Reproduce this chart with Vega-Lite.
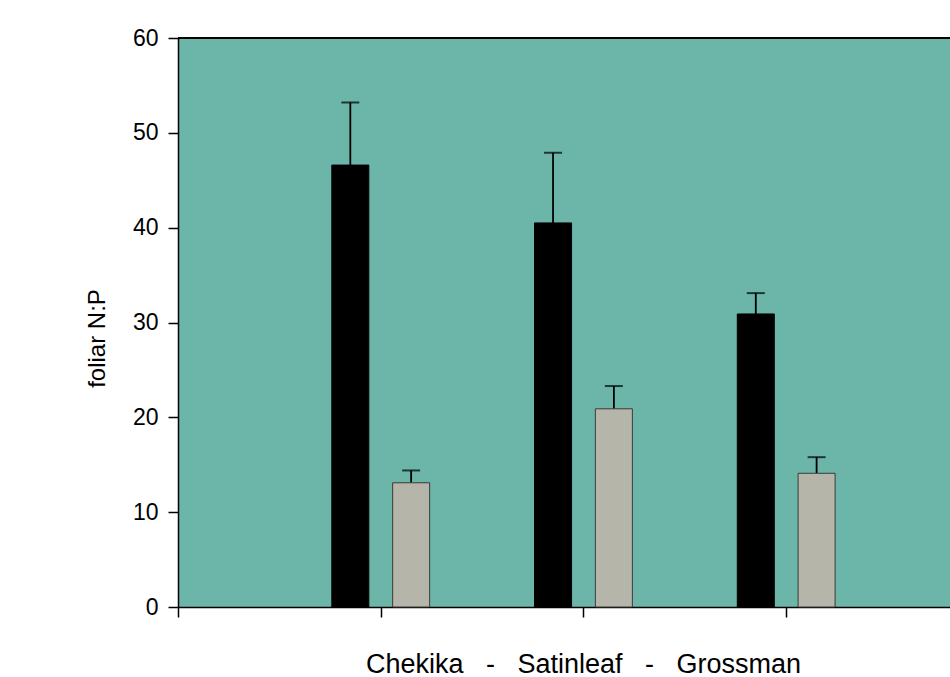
{
  "$schema": "https://vega.github.io/schema/vega-lite/v6.json",
  "autosize": "none",
  "width": 772,
  "height": 569,
  "padding": {"left": 178, "top": 38, "right": 0, "bottom": 70},
  "background": "#ffffff",
  "config": {
    "font": "Liberation Sans",
    "view": {"fill": "#6bb5a9", "stroke": null}
  },
  "data": {
    "values": [
      {"site": "Chekika", "group": 1, "series": "A", "value": 46.6, "upper": 53.2},
      {"site": "Chekika", "group": 1, "series": "B", "value": 13.1, "upper": 14.4},
      {"site": "Satinleaf", "group": 2, "series": "A", "value": 40.5, "upper": 47.9},
      {"site": "Satinleaf", "group": 2, "series": "B", "value": 20.9, "upper": 23.3},
      {"site": "Grossman", "group": 3, "series": "A", "value": 30.9, "upper": 33.1},
      {"site": "Grossman", "group": 3, "series": "B", "value": 14.1, "upper": 15.8}
    ]
  },
  "transform": [
    {"calculate": "datum.group + (datum.series === 'A' ? -0.15 : 0.15)", "as": "xpos"}
  ],
  "encoding": {
    "x": {
      "field": "xpos",
      "type": "quantitative",
      "scale": {"domain": [0, 3.808], "nice": false, "zero": false, "padding": 0},
      "axis": {
        "values": [0, 1, 2, 3],
        "labels": false,
        "grid": false,
        "domainColor": "#000000",
        "domainWidth": 1.5,
        "tickColor": "#000000",
        "tickWidth": 1.5,
        "tickSize": 10,
        "title": "Chekika\u00a0\u00a0\u00a0-\u00a0\u00a0\u00a0Satinleaf\u00a0\u00a0\u00a0-\u00a0\u00a0\u00a0Grossman",
        "titleFont": "Liberation Sans",
        "titleFontSize": 27,
        "titleFontWeight": "normal",
        "titleColor": "#000000",
        "titleX": 405,
        "titleY": 57,
        "titleAlign": "center",
        "titleBaseline": "middle"
      }
    }
  },
  "layer": [
    {
      "mark": {"type": "rule", "color": "#000000", "strokeWidth": 1.5},
      "encoding": {"y": {"datum": 60, "type": "quantitative"}, "x": null}
    },
    {
      "mark": {"type": "rule", "color": "#000000", "strokeWidth": 1.8},
      "encoding": {
        "y": {"field": "value", "type": "quantitative"},
        "y2": {"field": "upper"}
      }
    },
    {
      "mark": {"type": "tick", "orient": "horizontal", "color": "#000000", "size": 18, "thickness": 2},
      "encoding": {
        "y": {"field": "upper", "type": "quantitative"}
      }
    },
    {
      "mark": {"type": "bar", "width": 37, "strokeWidth": 1},
      "encoding": {
        "y": {
          "field": "value",
          "type": "quantitative",
          "scale": {"domain": [0, 60], "nice": false},
          "axis": {
            "values": [0, 10, 20, 30, 40, 50, 60],
            "grid": false,
            "domainColor": "#000000",
            "domainWidth": 1.5,
            "tickColor": "#000000",
            "tickWidth": 1.5,
            "tickSize": 10,
            "labelFont": "Liberation Sans",
            "labelFontSize": 23,
            "labelColor": "#000000",
            "labelPadding": 10,
            "title": "foliar N:P",
            "titleFont": "Liberation Sans",
            "titleFontSize": 24,
            "titleFontWeight": "normal",
            "titleColor": "#000000",
            "titleAngle": 270,
            "titleX": -81,
            "titleY": 300,
            "titleAlign": "center",
            "titleBaseline": "middle"
          }
        },
        "color": {
          "field": "series",
          "type": "nominal",
          "scale": {"domain": ["A", "B"], "range": ["#000000", "#b5b5a9"]},
          "legend": null
        },
        "stroke": {
          "field": "series",
          "type": "nominal",
          "scale": {"domain": ["A", "B"], "range": ["#000000", "#3a3a3a"]},
          "legend": null
        }
      }
    }
  ]
}
